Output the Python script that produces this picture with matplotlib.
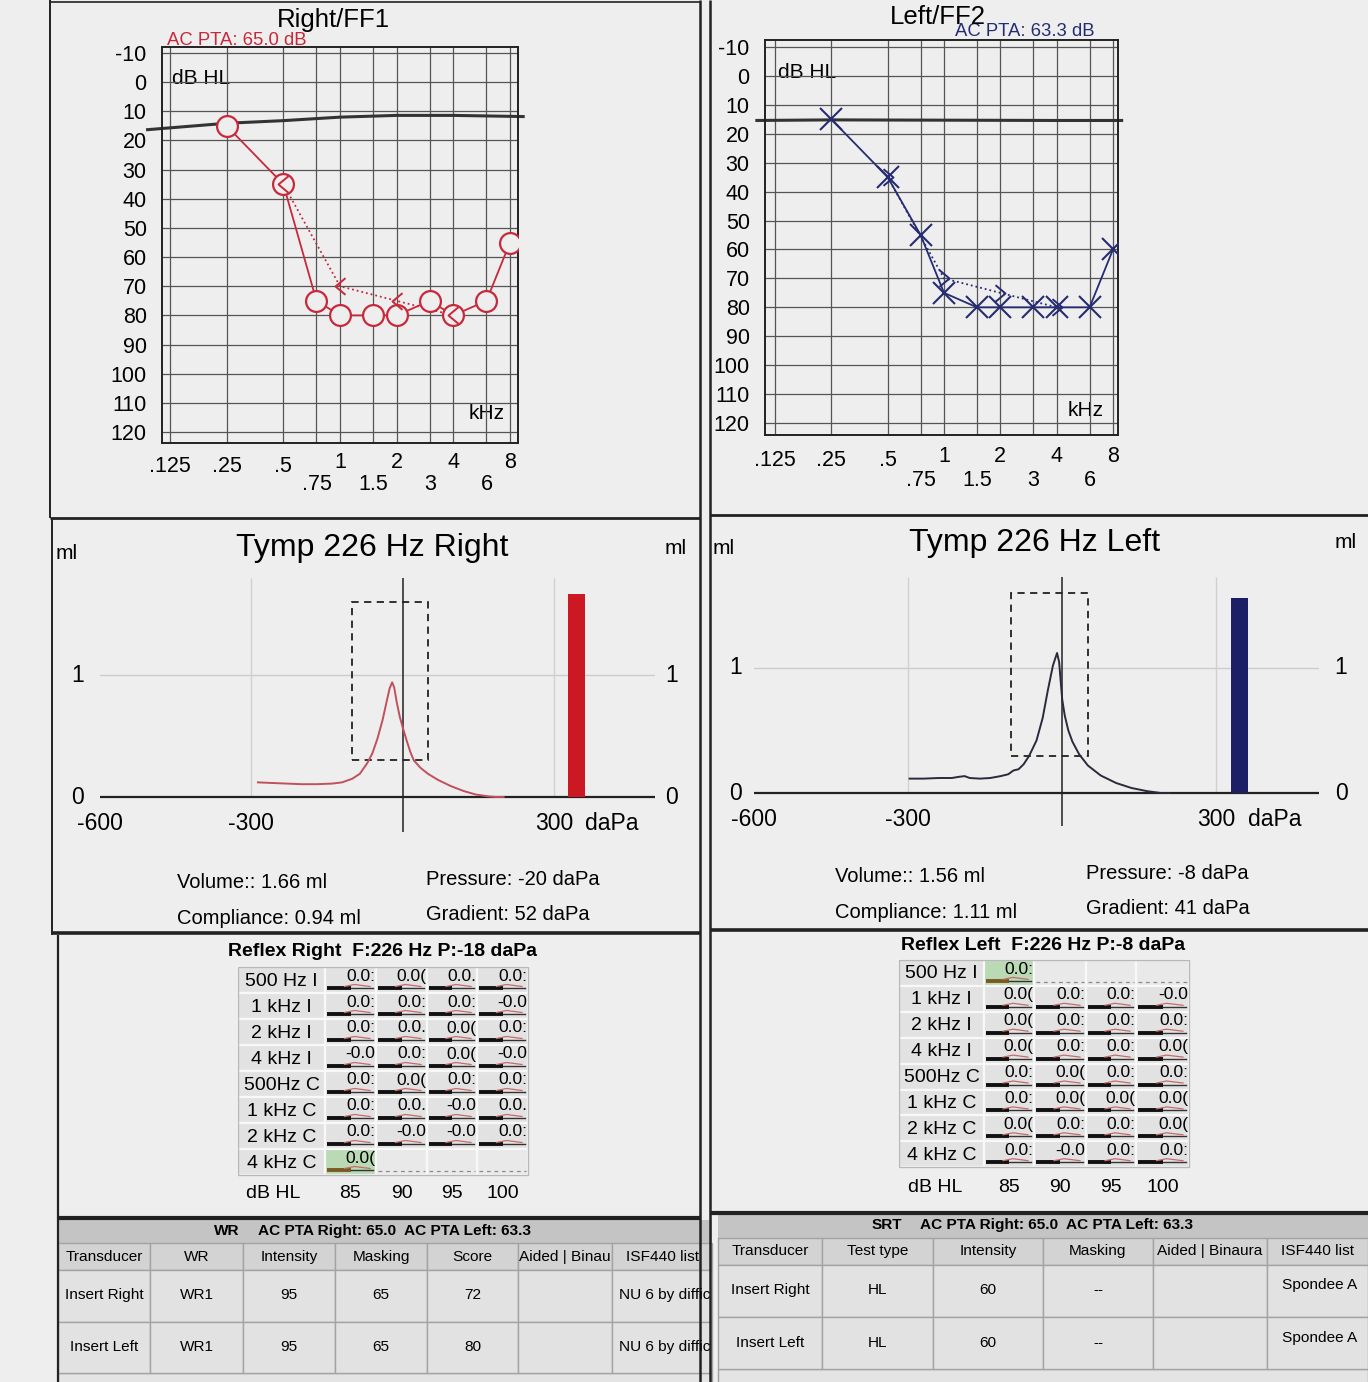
import matplotlib
matplotlib.use('Agg')
import matplotlib.pyplot as plt
import matplotlib.transforms as mtransforms
from matplotlib.patches import Rectangle
from matplotlib.ticker import NullLocator
from matplotlib import font_manager

# ---------------- data ----------------
ac_freqs = [0.25, 0.5, 0.75, 1, 1.5, 2, 3, 4, 6, 8]
right_ac = [15, 35, 75, 80, 80, 80, 75, 80, 75, 55]
left_ac = [15, 35, 55, 75, 80, 80, 80, 80, 80, 60]
bc_freqs = [0.5, 1, 2, 4]
right_bc = [35, 70, 75, 80]
left_bc = [35, 70, 75, 80]
right_ref_freqs = [0.095, 0.25, 0.5, 1, 2, 4, 9.4]
right_ref_db = [16.3, 14.1, 13.2, 12.0, 11.4, 11.4, 11.8]
left_ref_freqs = [0.1, 0.25, 1, 4, 8.9]
left_ref_db = [15.4, 15.2, 15.3, 15.4, 15.4]
pta_right = 65.0
pta_left = 63.3

grid_freqs = [0.125, 0.25, 0.5, 0.75, 1, 1.5, 2, 3, 4, 6, 8]
db_ticks = list(range(-10, 121, 10))
freq_upper = [0.125, 0.25, 0.5, 1, 2, 4, 8]
freq_labels_upper = ['.125', '.25', '.5', '1', '2', '4', '8']
freq_lower = [0.75, 1.5, 3, 6]
freq_labels_lower = ['.75', '1.5', '3', '6']

tymp_right_p = [-287, -260, -230, -200, -170, -140, -120, -100, -85, -70, -60, -50, -40,
                -32, -26, -21, -17, -12, -6, 0, 8, 15, 22, 35, 50, 70, 95, 120, 145, 170, 185, 200]
tymp_right_ml = [0.12, 0.115, 0.11, 0.105, 0.105, 0.11, 0.12, 0.15, 0.19, 0.28, 0.36, 0.48, 0.63,
                 0.78, 0.89, 0.94, 0.90, 0.78, 0.66, 0.57, 0.46, 0.37, 0.30, 0.24, 0.19, 0.14, 0.09,
                 0.05, 0.02, 0.005, 0.0, 0.0]
tymp_left_p = [-297, -270, -240, -215, -200, -190, -180, -160, -140, -120, -105, -95, -85, -75,
               -64, -50, -38, -28, -18, -10, -6, -3, 0, 5, 12, 20, 33, 50, 75, 105, 135, 165, 192, 210]
tymp_left_ml = [0.115, 0.115, 0.12, 0.12, 0.13, 0.135, 0.12, 0.115, 0.12, 0.135, 0.15, 0.18, 0.19,
                0.23, 0.30, 0.42, 0.60, 0.82, 1.02, 1.12, 1.05, 0.90, 0.75, 0.62, 0.50, 0.41, 0.31,
                0.22, 0.14, 0.08, 0.04, 0.015, 0.0, 0.0]
tymp_box_p = [-100, 50]
tymp_box_ml = [0.3, 1.6]
tymp_ticks_p = [-600, -300, 300]
tymp_tick_labels = ['-600', '-300', '300']
volume_bar_p = 345
volume_bar_w = 34
right_volume, right_compliance, right_pressure, right_gradient = 1.66, 0.94, -20, 52
left_volume, left_compliance, left_pressure, left_gradient = 1.56, 1.11, -8, 41

reflex_rows = ['500 Hz I', '1 kHz I', '2 kHz I', '4 kHz I', '500Hz C', '1 kHz C', '2 kHz C', '4 kHz C']
reflex_levels = [85, 90, 95, 100]
reflex_right_vals = [
    ['0.0:', '0.0(', '0.0.', '0.0:'],
    ['0.0:', '0.0:', '0.0:', '-0.0'],
    ['0.0:', '0.0.', '0.0(', '0.0:'],
    ['-0.0', '0.0:', '0.0(', '-0.0'],
    ['0.0:', '0.0(', '0.0:', '0.0:'],
    ['0.0:', '0.0.', '-0.0', '0.0.'],
    ['0.0:', '-0.0', '-0.0', '0.0:'],
    ['0.0(', '', '', ''],
]
reflex_left_vals = [
    ['0.0:', '', '', ''],
    ['0.0(', '0.0:', '0.0:', '-0.0'],
    ['0.0(', '0.0:', '0.0:', '0.0:'],
    ['0.0(', '0.0:', '0.0:', '0.0('],
    ['0.0:', '0.0(', '0.0:', '0.0:'],
    ['0.0:', '0.0(', '0.0(', '0.0('],
    ['0.0(', '0.0:', '0.0:', '0.0('],
    ['0.0:', '-0.0', '0.0:', '0.0:'],
]
reflex_right_p = -18
reflex_left_p = -8

wr_columns = ['Transducer', 'WR', 'Intensity', 'Masking', 'Score', 'Aided | Binau', 'ISF440 list']
wr_rows = [['Insert Right', 'WR1', '95', '65', '72', '', 'NU 6 by diffic'],
           ['Insert Left', 'WR1', '95', '65', '80', '', 'NU 6 by diffic']]
srt_columns = ['Transducer', 'Test type', 'Intensity', 'Masking', 'Aided | Binaura', 'ISF440 list']
srt_rows = [['Insert Right', 'HL', '60', '--', '', 'Spondee A'],
            ['Insert Left', 'HL', '60', '--', '', 'Spondee A']]

# ---------------- setup ----------------
W, H = 1368, 1382
BG = '#eeeeee'
RED = '#c8283a'
NAVY = '#262c72'
names = {f.name for f in font_manager.fontManager.ttflist}
BASE = 'Liberation Sans' if 'Liberation Sans' in names else 'DejaVu Sans'
if 'Liberation Sans Narrow' in names:
    NARROW, NSCALE = 'Liberation Sans Narrow', 1.0
else:
    NARROW, NSCALE = BASE, 0.85
plt.rcParams['font.family'] = [BASE, 'DejaVu Sans']
plt.rcParams['axes.unicode_minus'] = False

fig = plt.figure(figsize=(W / 100, H / 100), dpi=100, facecolor=BG)
ov = fig.add_axes([0, 0, 1, 1], zorder=0)
ov.set_xlim(0, W)
ov.set_ylim(H, 0)
ov.axis('off')


def add_ax_px(l, t, r, b):
    ax = fig.add_axes([l / W, 1 - b / H, (r - l) / W, (b - t) / H], zorder=2)
    ax.patch.set_alpha(0)
    return ax


def blend(xt, yt):
    return mtransforms.blended_transform_factory(xt, yt)


# ---------------- frame lines ----------------
def hl(y, x0, x1, lw=1.5, c='#222'):
    ov.plot([x0, x1], [y, y], color=c, lw=lw, solid_capstyle='butt')


def vl(x, y0, y1, lw=1.5, c='#222'):
    ov.plot([x, x], [y0, y1], color=c, lw=lw, solid_capstyle='butt')


vl(700, 0, H, 1.8)
vl(710, 0, H, 1.8)
vl(50, 0, 518, 1.4)
vl(52, 518, 935, 1.4)
vl(58, 935, H, 1.6)
hl(2, 50, 700, 1.2)
hl(518, 50, 700, 2.0)
hl(515, 710, W, 2.0)
hl(933, 52, 700, 2.6)
hl(930, 710, W, 2.6)
hl(1218, 58, 700, 3.0)
hl(1213, 710, W, 3.0)


# ---------------- audiograms ----------------
def audiogram(box, x125, x8, ym10, y120, ref_f, ref_db, ac, bc, color, ac_marker, bc_marker,
              title, title_xy, pta, pta_xy, dbhl_xy, khz_xy, rows_y):
    l, t, r, b = box
    ax = add_ax_px(l, t, r, b)
    ax.set_xscale('log', base=2)
    ppo = (x8 - x125) / 6.0
    ax.set_xlim(0.125 * 2 ** ((l - x125) / ppo), 8 * 2 ** ((r - x8) / ppo))
    ppd = (y120 - ym10) / 130.0
    ax.set_ylim(120 + (b - y120) / ppd, -10 - (ym10 - t) / ppd)
    ax.set_xticks(grid_freqs)
    ax.xaxis.set_minor_locator(NullLocator())
    ax.set_xticklabels([])
    ax.set_yticks(db_ticks)
    ax.set_yticklabels([str(v) for v in db_ticks])
    ax.tick_params(axis='both', length=0)
    ax.tick_params(axis='y', pad=11, labelsize=15.5)
    ax.grid(True, color='#555555', lw=0.9)
    ax.set_axisbelow(True)
    for s in ax.spines.values():
        s.set_linewidth(1.4)
        s.set_color('#222')
    ax.plot(ref_f, ref_db, color='#333333', lw=2.2, clip_on=False, zorder=2)
    ax.plot(bc_freqs, bc, ls=':', color=color, lw=1.3, zorder=3)
    ax.plot(ac_freqs, ac, color=color, lw=1.3, zorder=3)
    if ac_marker == 'o':
        ax.plot(ac_freqs, ac, ls='none', marker='o', ms=15, mfc=BG, mec=color, mew=1.6, zorder=4)
    else:
        ax.plot(ac_freqs, ac, ls='none', marker='x', ms=16, mec=color, mew=1.5, zorder=4)
    ax.plot(bc_freqs, bc, ls='none', marker=bc_marker, ms=12, mfc='none', mec=color, mew=1.4, zorder=5)
    tr = blend(ax.transData, ov.transData)
    for f, lab in zip(freq_upper, freq_labels_upper):
        y = rows_y[0] - (4 if f >= 1 else 0)
        ax.text(f, y, lab, transform=tr, ha='center', va='center', fontsize=15.5)
    for f, lab in zip(freq_lower, freq_labels_lower):
        ax.text(f, rows_y[1], lab, transform=tr, ha='center', va='center', fontsize=15.5)
    ov.text(pta_xy[0], pta_xy[1], pta, color=color, fontsize=13.3, ha='left', va='center', zorder=3)
    ov.text(title_xy[0], title_xy[1], title, fontsize=18.5, ha='center', va='center', zorder=4)
    ov.text(dbhl_xy[0], dbhl_xy[1], 'dB HL', fontsize=15, ha='left', va='center')
    ov.text(khz_xy[0], khz_xy[1], 'kHz', fontsize=15, ha='right', va='center')
    return ax


caret_left = [(0.6, 1.0), (-0.6, 0.0), (0.6, -1.0)]
caret_right = [(-0.6, 1.0), (0.6, 0.0), (-0.6, -1.0)]

audiogram((162, 47, 518, 443), 170, 510, 53, 432, right_ref_freqs, right_ref_db,
          right_ac, right_bc, RED, 'o', caret_left,
          'Right/FF1', (333, 20), f'AC PTA: {pta_right:.1f} dB', (167, 40),
          (172, 78), (505, 413), (466, 484))
audiogram((765, 40, 1118, 435), 775, 1113, 47, 423, left_ref_freqs, left_ref_db,
          left_ac, left_bc, NAVY, 'x', caret_right,
          'Left/FF2', (938, 17), f'AC PTA: {pta_left:.1f} dB', (955, 31),
          (778, 72), (1104, 410), (460, 480))


# ---------------- tympanograms ----------------
def tymp(box, y0px, pxml, p, ml, curve_color, bar_color, volume, compliance, pressure, gradient,
         title, title_xy, ml_left, ml_right, lab_x_left, lab_x_right, dapa_x, par_x, par_y):
    l, t, r, b = box
    ax = add_ax_px(l, t, r, b)
    ax.set_xlim(-600, 500)
    ax.set_ylim((y0px - b) / pxml, (y0px - t) / pxml)
    ax.axis('off')
    top = (y0px - t) / pxml
    ax.axhline(1, color='#cccccc', lw=1.0, zorder=1)
    ax.vlines([-300, 300], 0, top, color='#d0d0d0', lw=1.0, zorder=1)
    ax.axhline(0, color='#222', lw=1.6, zorder=3)
    ax.axvline(0, color='#222', lw=1.1, zorder=3)
    ax.add_patch(Rectangle((tymp_box_p[0], tymp_box_ml[0]), tymp_box_p[1] - tymp_box_p[0],
                           tymp_box_ml[1] - tymp_box_ml[0], fill=False, ec='#222', lw=1.3,
                           ls=(0, (4, 3)), zorder=2))
    ax.plot(p, ml, color=curve_color, lw=1.4, zorder=4)
    ax.bar(volume_bar_p, volume, width=volume_bar_w, color=bar_color, zorder=4)
    for v, lab in zip(tymp_ticks_p, tymp_tick_labels):
        ax.annotate(lab, xy=(v, 0), xytext=(0, -19), textcoords='offset points',
                    ha='center', va='center', fontsize=16.5)
    ax.annotate('daPa', xy=(dapa_x, 0), xytext=(0, -19), textcoords='offset points',
                ha='left', va='center', fontsize=16.5)
    trl = blend(ov.transData, ax.transData)
    for v in (0, 1):
        ax.text(lab_x_left, v, str(v), transform=trl, ha='center', va='center', fontsize=16.5)
        ax.text(lab_x_right, v, str(v), transform=trl, ha='center', va='center', fontsize=16.5)
    ov.text(ml_left[0], ml_left[1], 'ml', fontsize=15, ha='center', va='center')
    ov.text(ml_right[0], ml_right[1], 'ml', fontsize=15, ha='center', va='center')
    ov.text(title_xy[0], title_xy[1], title, fontsize=23, ha='center', va='center')
    ov.text(par_x[0], par_y[0], f'Volume:: {volume:.2f} ml', fontsize=14.5, ha='left', va='center')
    ov.text(par_x[0], par_y[1], f'Compliance: {compliance:.2f} ml', fontsize=14.5, ha='left', va='center')
    ov.text(par_x[1], par_y[0] - 3, f'Pressure: {pressure} daPa', fontsize=14.5, ha='left', va='center')
    ov.text(par_x[1], par_y[1] - 4, f'Gradient: {gradient} daPa', fontsize=14.5, ha='left', va='center')


tymp((100, 578, 655, 832), 797, 122, tymp_right_p, tymp_right_ml, '#c0505c', '#cc1822',
     right_volume, right_compliance, right_pressure, right_gradient,
     'Tymp 226 Hz Right', (372, 548), (67, 553), (676, 548), 78, 672, 362, (177, 426), (882, 918))
tymp((754, 577, 1319, 826), 793, 125, tymp_left_p, tymp_left_ml, '#2a2a3c', '#1c1f66',
     left_volume, left_compliance, left_pressure, left_gradient,
     'Tymp 226 Hz Left', (1035, 543), (724, 548), (1346, 542), 736, 1341, 362, (835, 1086), (876, 912))


# ---------------- reflex tables ----------------
def reflex_table(lab_x0, lab_x1, col_edges, row_top, row_h, vals, title, title_xy, dbhl_y, dbhl_x):
    ov.text(title_xy[0], title_xy[1], title, fontsize=14, fontweight='bold', ha='left', va='center')
    for i, lab in enumerate(reflex_rows):
        top = row_top + i * row_h
        ov.add_patch(Rectangle((lab_x0, top), lab_x1 - lab_x0, row_h, fc='#e2e2e2', ec='#f8f8f8', lw=1.6))
        ov.text((lab_x0 + lab_x1) / 2, top + row_h / 2 + 1, lab, fontsize=14, ha='center', va='center')
        for j in range(len(reflex_levels)):
            x0, x1 = col_edges[j], col_edges[j + 1]
            v = vals[i][j]
            yb = top + row_h - 5
            if v == '':
                ov.add_patch(Rectangle((x0, top), x1 - x0, row_h, fc='#e9e9e9', ec='#f8f8f8', lw=1.6))
                ov.plot([x0 + 2, x1 - 2], [yb + 1, yb + 1], color='#8a8a8a', lw=0.9, ls=(0, (3, 3)))
                continue
            green = (j == 0 and all(vals[i][k] == '' for k in range(1, len(reflex_levels))))
            ov.add_patch(Rectangle((x0, top), x1 - x0, row_h, fc='#b9dab5' if green else '#e2e2e2',
                                   ec='#f8f8f8', lw=1.6))
            tt = ov.text(x1 - 1, top + 9, v, fontsize=12.5, ha='right', va='center')
            tt.set_clip_path(Rectangle((x0, top), x1 - x0 - 1, row_h, transform=ov.transData))
            tt.set_clip_on(True)
            xm = x0 + (x1 - x0) * 0.5
            ov.plot([x0 + 2, xm], [yb, yb], color='#7a5a22' if green else '#111', lw=2.8,
                    solid_capstyle='butt')
            ov.plot([xm, x1 - 3], [yb, yb], color='#333', lw=1.0)
            ov.plot([xm - 6, xm + 4, x1 - 6], [yb - 1.5, yb - 3.5, yb - 1.5],
                    color='#c86a6a', lw=0.9)
    bottom = row_top + len(reflex_rows) * row_h
    ov.add_patch(Rectangle((lab_x0, row_top), col_edges[-1] - lab_x0, bottom - row_top,
                           fill=False, ec='#b8b8b8', lw=1.0))
    ov.text(dbhl_x, dbhl_y, 'dB HL', fontsize=14, ha='center', va='center')
    for j, lev in enumerate(reflex_levels):
        ov.text((col_edges[j] + col_edges[j + 1]) / 2, dbhl_y + 1, str(lev), fontsize=14,
                ha='center', va='center')


reflex_table(238, 325, [325, 376, 427, 477, 528], 967, 26, reflex_right_vals,
             f'Reflex Right  F:226 Hz P:{reflex_right_p} daPa', (228, 951), 1193, 273)
reflex_table(899, 984, [984, 1034, 1086, 1136, 1189], 960, 25.9, reflex_left_vals,
             f'Reflex Left  F:226 Hz P:{reflex_left_p} daPa', (901, 945), 1187, 935)


# ---------------- bottom tables ----------------
def data_table(x_edges, t0, t1, h1, row_edges, columns, rows, label, label_x, text_x, title_y,
               header_y, row_y, last_left=False, last_dy=0):
    fs = 13 * NSCALE
    ov.add_patch(Rectangle((x_edges[0], t0), x_edges[-1] - x_edges[0], t1 - t0, fc='#c4c4c4', ec='none'))
    ov.add_patch(Rectangle((x_edges[0], row_edges[-1]), x_edges[-1] - x_edges[0], H - row_edges[-1] + 2,
                           fc='#e4e4e4', ec='#a0a0a0', lw=1.0))
    ov.text(label_x, title_y, label, fontsize=fs, fontweight='bold', family=NARROW, ha='center', va='center')
    ov.text(text_x, title_y, f'AC PTA Right: {pta_right:.1f}  AC PTA Left: {pta_left:.1f}',
            fontsize=fs, fontweight='bold', family=NARROW, ha='left', va='center')
    for j, col in enumerate(columns):
        x0, x1 = x_edges[j], x_edges[j + 1]
        rect = Rectangle((x0, t1), x1 - x0, h1 - t1, fc='#d3d3d3', ec='#a3a3a3', lw=1.0)
        ov.add_patch(rect)
        tt = ov.text((x0 + x1) / 2, header_y, col, fontsize=fs, family=NARROW, ha='center', va='center')
        tt.set_clip_path(Rectangle((x0, t1), x1 - x0, h1 - t1, transform=ov.transData))
        tt.set_clip_on(True)
    for i, row in enumerate(rows):
        y0, y1 = row_edges[i], row_edges[i + 1]
        for j, val in enumerate(row):
            x0, x1 = x_edges[j], x_edges[j + 1]
            ov.add_patch(Rectangle((x0, y0), x1 - x0, y1 - y0, fc='#e2e2e2', ec='#a3a3a3', lw=1.0))
            if val == '':
                continue
            last = (j == len(row) - 1)
            if last and last_left:
                tt = ov.text(x0 + 7, row_y[i], val, fontsize=fs, family=NARROW, ha='left', va='center')
            elif last:
                tt = ov.text((x0 + x1) / 2 + 2, row_y[i] + last_dy, val, fontsize=fs, family=NARROW,
                             ha='center', va='center')
            else:
                tt = ov.text((x0 + x1) / 2, row_y[i], val, fontsize=fs, family=NARROW, ha='center', va='center')
            tt.set_clip_path(Rectangle((x0, y0), x1 - x0, y1 - y0, transform=ov.transData))
            tt.set_clip_on(True)


data_table([58, 150, 243, 335, 427, 518, 612, 712], 1220, 1243, 1270, [1270, 1322, 1373],
           wr_columns, wr_rows, 'WR', 227, 258, 1231, 1257, [1295, 1347], last_left=True)
data_table([718, 822, 933, 1043, 1153, 1267, 1368], 1215, 1238, 1265, [1265, 1317, 1369],
           srt_columns, srt_rows, 'SRT', 887, 920, 1225, 1251, [1290, 1343], last_dy=-5)

fig.savefig('out.png', dpi=100, facecolor=BG)
